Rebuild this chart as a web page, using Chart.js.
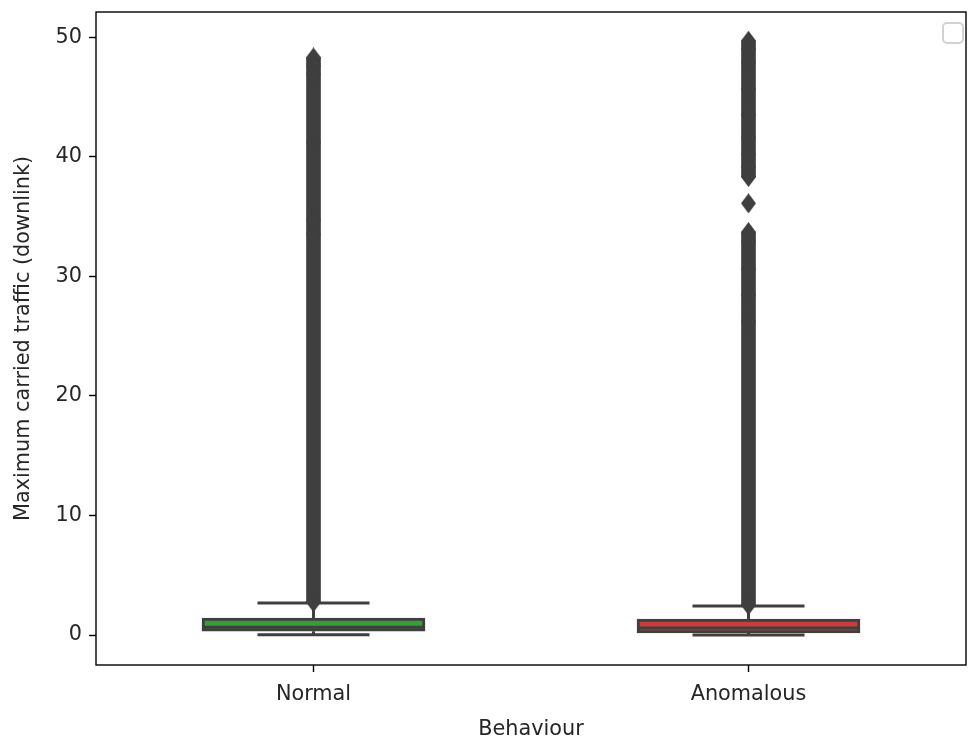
<!DOCTYPE html>
<html>
<head>
<meta charset="utf-8">
<script src="https://cdn.jsdelivr.net/npm/chart.js@4/dist/chart.umd.min.js"></script>
<style>
  html, body { margin: 0; padding: 0; background: #fff; overflow: hidden; }
  #wrap { width: 968px; height: 744px; }
  canvas { display: block; }
</style>
</head>
<body>
<div id="wrap"><canvas id="box-chart"></canvas></div>
<script>
// data
var categories = ['Normal', 'Anomalous'];
var whiskerLow = [0.03, 0.0];
var q1 = [0.33, 0.19];
var medians = [0.66, 0.6];
var q3 = [1.42, 1.34];
var whiskerHigh = [2.68, 2.43];
// outliers: dense runs drawn as columns, plus separate markers
var flierRuns = [
    [[2.75, 48.3]],
    [[2.5, 33.7], [38.3, 49.7]]
];
var flierPoints = [
    [2.75, 48.3, 47.6, 46.9, 41.2, 34.7, 33.5],
    [2.5, 33.7, 32.9, 30.6, 28.4, 26.2, 36.1, 38.3, 39.1, 40.2, 41.6, 43.5, 45.7, 47.9, 49.0, 49.7]
];
var yTicks = [0, 10, 20, 30, 40, 50];

// styles
var GRAY = '#3f3f3f';
var boxColors = ['#3b9c3b', '#c93d3d'];
var FONT = { family: 'DejaVu Sans', size: 20.8 };
var TEXT = '#262626';

// thin diamond marker, like matplotlib 'd'
function makeDiamond(w, h, color) {
    var c = document.createElement('canvas');
    c.width = w;
    c.height = h;
    var g = c.getContext('2d');
    g.fillStyle = color;
    g.beginPath();
    g.moveTo(w / 2, 0);
    g.lineTo(w, h / 2);
    g.lineTo(w / 2, h);
    g.lineTo(0, h / 2);
    g.closePath();
    g.fill();
    return c;
}
var diamond = makeDiamond(15, 20, GRAY);

// whiskers, caps, medians
var boxParts = {
    id: 'boxParts',
    beforeDatasetsDraw: function(chart) {
        var ctx = chart.ctx, xs = chart.scales.x, ys = chart.scales.y;
        ctx.save();
        ctx.strokeStyle = GRAY;
        ctx.lineWidth = 3;
        categories.forEach(function(c, i) {
            var x = xs.getPixelForValue(i);
            ctx.beginPath();
            ctx.moveTo(x, ys.getPixelForValue(q3[i]));
            ctx.lineTo(x, ys.getPixelForValue(whiskerHigh[i]));
            ctx.moveTo(x, ys.getPixelForValue(q1[i]));
            ctx.lineTo(x, ys.getPixelForValue(whiskerLow[i]));
            ctx.stroke();
            ctx.beginPath();
            [whiskerHigh[i], whiskerLow[i]].forEach(function(v) {
                var y = ys.getPixelForValue(v);
                ctx.moveTo(x - 56, y);
                ctx.lineTo(x + 56, y);
            });
            ctx.stroke();
        });
        ctx.restore();
    },
    afterDatasetsDraw: function(chart) {
        var ctx = chart.ctx, xs = chart.scales.x, ys = chart.scales.y;
        ctx.save();
        ctx.strokeStyle = GRAY;
        ctx.lineWidth = 3;
        categories.forEach(function(c, i) {
            var x = xs.getPixelForValue(i);
            var y = ys.getPixelForValue(medians[i]);
            ctx.beginPath();
            ctx.moveTo(x - 110, y);
            ctx.lineTo(x + 110, y);
            ctx.stroke();
        });
        ctx.restore();
    },
    afterDraw: function(chart) {
        var ctx = chart.ctx, a = chart.chartArea;
        ctx.save();
        // spines
        ctx.strokeStyle = '#000';
        ctx.lineWidth = 1.4;
        ctx.strokeRect(a.left, a.top, a.right - a.left, a.bottom - a.top);
        // empty legend frame
        ctx.strokeStyle = '#d2d2d2';
        ctx.lineWidth = 2;
        ctx.beginPath();
        ctx.roundRect(a.right - 23, a.top + 11, 20, 20, 4);
        ctx.stroke();
        ctx.restore();
    }
};

var datasets = [];
datasets.push({
    type: 'line',
    label: 'fliers',
    data: [].concat.apply([], flierPoints.map(function(list, i) {
        return list.map(function(v) { return { x: categories[i], y: v }; });
    })),
    showLine: false,
    pointStyle: diamond,
    order: 0
});
var runCount = Math.max.apply(null, flierRuns.map(function(r) { return r.length; }));
for (var k = 0; k < runCount; k++) {
    datasets.push({
        type: 'bar',
        label: 'flier run ' + k,
        data: flierRuns.map(function(r) { return r[k] || null; }),
        backgroundColor: GRAY,
        borderWidth: 0,
        barThickness: 14,
        grouped: false,
        order: 1
    });
}
datasets.push({
    type: 'bar',
    label: 'box',
    data: categories.map(function(c, i) { return [q1[i], q3[i]]; }),
    backgroundColor: boxColors,
    borderColor: GRAY,
    borderWidth: 3,
    borderSkipped: false,
    barThickness: 223,
    grouped: false,
    order: 2
});

function noEdgePadding(scale) {
    scale.paddingTop = 0;
    scale.paddingBottom = 0;
    scale.paddingLeft = 0;
    scale.paddingRight = 0;
}

var boxChart = new Chart(document.getElementById('box-chart').getContext('2d'), {
    data: { labels: categories, datasets: datasets },
    options: {
        responsive: true,
        maintainAspectRatio: false,
        animation: false,
        layout: { autoPadding: false, padding: { top: 12, right: 2, left: 0, bottom: 0 } },
        plugins: { legend: { display: false }, tooltip: { enabled: false } },
        scales: {
            x: {
                type: 'category',
                offset: true,
                afterFit: function(scale) { scale.height = 79; noEdgePadding(scale); },
                grid: { display: true, drawOnChartArea: false, tickLength: 7, tickColor: '#000', tickWidth: 1.4, offset: false },
                border: { display: false },
                ticks: { font: FONT, color: TEXT, padding: 10 },
                title: { display: true, text: 'Behaviour', font: FONT, color: TEXT, padding: { top: 0, bottom: 2 } }
            },
            y: {
                type: 'linear',
                min: -2.5,
                max: 52.1,
                afterFit: function(scale) { scale.width = 96; noEdgePadding(scale); },
                afterBuildTicks: function(scale) {
                    scale.ticks = yTicks.map(function(v) { return { value: v }; });
                },
                grid: { display: true, drawOnChartArea: false, tickLength: 7, tickColor: '#000', tickWidth: 1.4 },
                border: { display: false },
                ticks: { font: FONT, color: TEXT, padding: 7 },
                title: { display: true, text: 'Maximum carried traffic (downlink)', font: FONT, color: TEXT, padding: { top: 11, bottom: 0 } }
            }
        }
    },
    plugins: [boxParts]
});
</script>
</body>
</html>
